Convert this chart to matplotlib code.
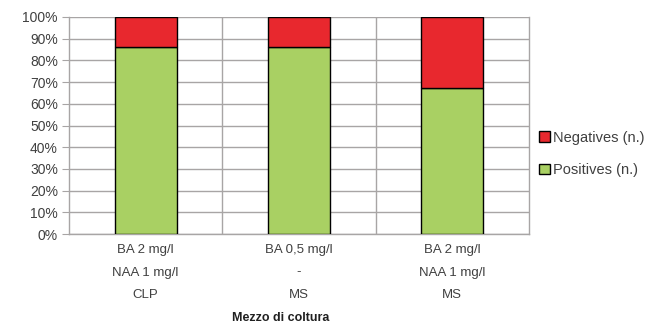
import matplotlib.pyplot as plt
import numpy as np

# counts per culture medium
media = [
    ["BA 2 mg/l", "NAA 1 mg/l", "CLP"],
    ["BA 0,5 mg/l", "-", "MS"],
    ["BA 2 mg/l", "NAA 1 mg/l", "MS"],
]
positives = [19, 19, 31]
negatives = [3, 3, 15]

GREEN = "#A9D063"
RED = "#E8282E"
GRID = "#A8A5A5"
TEXT = "#404040"

plt.rcParams["font.family"] = ["Liberation Sans", "DejaVu Sans"]

pos = np.array(positives, dtype=float)
neg = np.array(negatives, dtype=float)
total = pos + neg
pos_pct = pos / total * 100
neg_pct = neg / total * 100

fig = plt.figure(figsize=(6.54, 3.26), dpi=100)
ax = fig.add_axes([69 / 654, 1 - 234 / 326, 460 / 654, 217 / 326])

x = np.arange(len(media))
ax.bar(x, pos_pct, width=0.405, color=GREEN, edgecolor="black", linewidth=1.0,
       label="Positives (n.)", zorder=3)
ax.bar(x, neg_pct, bottom=pos_pct, width=0.405, color=RED, edgecolor="black",
       linewidth=1.0, label="Negatives (n.)", zorder=3)

ax.set_xlim(-0.5, len(media) - 0.5)
ax.set_ylim(0, 100)

ax.set_yticks(np.arange(0, 101, 10))
ax.set_yticklabels([f"{v}%" for v in range(0, 101, 10)], fontsize=10, color=TEXT)
ax.yaxis.grid(True, color=GRID, linewidth=1.0, zorder=0)

# vertical separators between the media
ax.set_xticks(x)
ax.set_xticks(np.arange(0.5, len(media) - 0.5, 1), minor=True)
ax.xaxis.grid(True, which="minor", color=GRID, linewidth=1.0, zorder=0)
ax.set_xticklabels(["\n".join(m) for m in media], fontsize=9.5, color=TEXT,
                   linespacing=2.2)
ax.tick_params(axis="x", which="both", length=0, pad=7)
ax.tick_params(axis="y", length=5, color=GRID, pad=3)

for side in ["left", "bottom", "right"]:
    ax.spines[side].set_color(GRID)
    ax.spines[side].set_linewidth(1.0)
ax.spines["top"].set_visible(False)

fig.text(281 / 654, 1 - 318 / 326, "Mezzo di coltura", ha="center", va="center",
         fontsize=9, fontweight="bold", color="#202020")

handles, labels = ax.get_legend_handles_labels()
leg = fig.legend(handles[::-1], labels[::-1], loc="center left",
                 bbox_to_anchor=(533 / 654, 1 - 154 / 326), frameon=False,
                 fontsize=10.5, handlelength=0.75, handleheight=0.75,
                 handletextpad=0.25, labelspacing=1.25, borderaxespad=0)
for t in leg.get_texts():
    t.set_color(TEXT)

fig.savefig("out.png", dpi=100)
